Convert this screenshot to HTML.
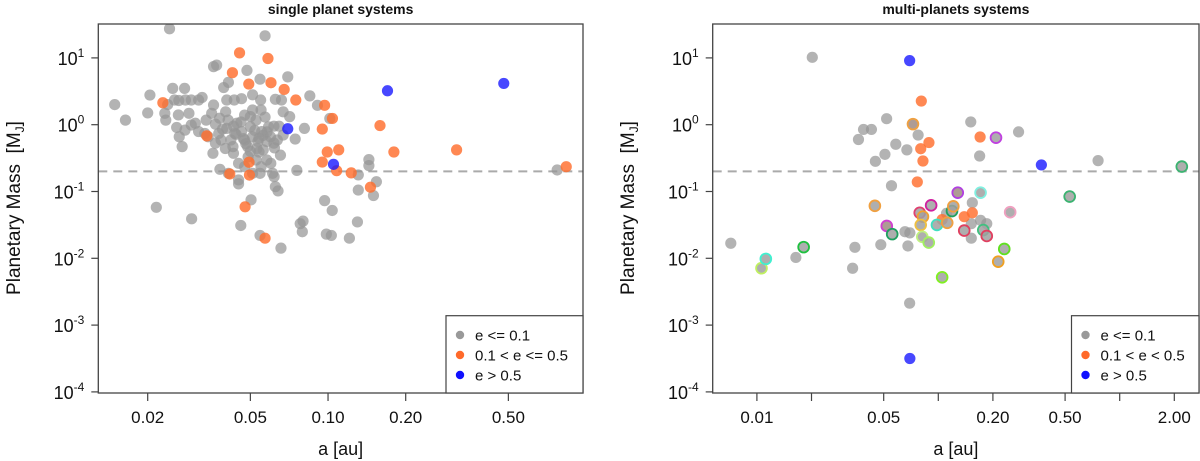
<!DOCTYPE html>
<html><head><meta charset="utf-8"><style>
html,body{margin:0;padding:0;background:#fff}
svg{display:block;font-family:"Liberation Sans",Arial,sans-serif}
</style></head><body>
<svg id="chart" width="1200" height="461" viewBox="0 0 1200 461"></svg>
<script>
// ---- single planet systems ----
const singleGrayA=[0.0149,0.0164,0.02,0.0204,0.0243,0.0216,0.0296,0.0272,0.0259,0.025,0.0278,0.036,0.037,0.0394,0.0411,0.0459,0.0503,0.0545,0.057,0.0657,0.0485,0.0545,0.0698,0.085,0.091,0.1016,0.0746,0.081,0.0757,0.0618,0.0625,0.064,0.097,0.1038,0.0985,0.103,0.121,0.130,0.0795,0.078,0.080,0.131,0.131,0.144,0.144,0.150,0.154,0.773,0.0381,0.0358,0.043,0.045,0.045,0.045,0.0526,0.060,0.0654,0.055,0.054,0.067,0.071,0.066,0.0625,0.0548,0.051,0.0462,0.0433,0.0405,0.051,0.055,0.0315,0.0325,0.0295,0.028,0.0264,0.0254,0.0239,0.0233,0.0235,0.0263,0.0289,0.0306,0.0315,0.0333,0.0337,0.0354,0.036,0.0366,0.0377,0.0385,0.0400,0.0405,0.042,0.0435,0.0443,0.0462,0.0475,0.0488,0.05,0.051,0.0526,0.0535,0.0553,0.0561,0.0579,0.0598,0.0617,0.0636,0.0588,0.0617,0.0646,0.0670,0.041,0.0401,0.0475,0.05,0.0428,0.0366,0.0343,0.0295,0.0279,0.0265,0.049,0.0545,0.051,0.0579,0.061,0.0411,0.0475,0.044,0.047,0.052,0.056,0.039,0.048,0.053,0.058,0.043,0.046,0.050,0.054,0.038,0.062,0.057];
const singleGrayM=[2.0,1.17,1.5,2.78,27.3,0.058,0.039,0.47,0.91,3.5,3.5,7.4,7.8,3.6,4.3,0.031,0.075,0.022,21.4,0.0142,6.5,4.8,5.2,2.7,1.95,1.24,0.61,0.88,0.207,0.167,0.118,0.102,0.073,0.052,0.023,0.022,0.02,0.035,0.025,0.033,0.036,0.105,0.177,0.30,0.244,0.087,0.14,0.21,0.215,0.373,0.373,0.264,0.149,0.13,0.296,0.264,0.35,0.235,0.39,1.56,1.32,2.34,2.4,2.34,2.8,2.45,2.34,2.34,1.66,1.66,2.34,2.56,2.34,2.34,2.3,2.34,2.0,1.48,1.17,1.4,1.48,1.05,0.79,0.74,1.17,1.48,1.97,1.02,0.74,0.59,0.44,0.88,0.59,0.74,1.05,0.79,0.59,0.47,0.93,0.66,1.17,0.56,0.79,0.42,0.56,0.66,0.53,0.59,0.93,0.95,0.95,0.70,1.17,1.56,1.39,1.32,0.47,0.53,0.66,0.99,0.83,0.66,0.33,0.187,0.187,0.296,0.187,0.187,0.235,0.72,0.62,0.82,0.69,0.86,0.52,0.44,0.78,0.95,1.1,0.40,0.63,1.25,0.45,1.3];
const singleOrangeA=[0.0229,0.0339,0.0416,0.0426,0.0454,0.0493,0.0494,0.0496,0.0477,0.057,0.0585,0.0601,0.0676,0.075,0.097,0.095,0.104,0.0993,0.110,0.095,0.108,0.123,0.146,0.159,0.180,0.315,0.838];
const singleOrangeM=[2.13,0.68,0.183,6.0,11.9,4.06,0.274,0.176,0.059,0.020,9.8,4.25,3.37,2.34,1.95,0.86,1.24,0.39,0.42,0.276,0.205,0.19,0.116,0.97,0.39,0.42,0.235];
const singleBlueA=[0.0698,0.105,0.170,0.48];
const singleBlueM=[0.87,0.255,3.22,4.15];
// ---- multi-planet systems ----
const multiGrayA=[0.00718,0.0202,0.0164,0.0337,0.0347,0.0363,0.0387,0.0428,0.045,0.0508,0.0519,0.0583,0.0671,0.0774,0.0552,0.0482,0.0655,0.0697,0.068,0.0695,0.151,0.169,0.277,0.76,0.152,0.152,0.171,0.185,0.111,0.154];
const multiGrayM=[0.0168,10.2,0.0103,0.0071,0.0146,0.60,0.85,0.85,0.283,0.36,1.23,0.51,0.42,0.70,0.122,0.016,0.025,0.024,0.0153,0.00213,1.10,0.34,0.78,0.29,0.033,0.02,0.037,0.033,0.047,0.068];
const multiOrangeA=[0.0806,0.0725,0.080,0.0888,0.0823,0.0766,0.17,0.052,0.105,0.139,0.154,0.127];
const multiOrangeM=[2.26,1.02,0.437,0.54,0.286,0.139,0.654,0.03,0.038,0.042,0.048,0.096];
const multiBlueA=[0.0695,0.0697,0.37];
const multiBlueM=[9.1,0.000316,0.25];
const multiRingA=[2.2,0.53,0.208,0.249,0.0725,0.0447,0.0106,0.0112,0.0181,0.052,0.0557,0.079,0.0823,0.08,0.0816,0.0886,0.0913,0.0983,0.105,0.112,0.119,0.121,0.128,0.139,0.171,0.177,0.185,0.214,0.231];
const multiRingM=[0.236,0.084,0.64,0.049,1.02,0.061,0.0071,0.0098,0.0147,0.0305,0.023,0.048,0.042,0.0316,0.021,0.0172,0.0621,0.0316,0.0052,0.034,0.051,0.06,0.096,0.026,0.096,0.0265,0.0216,0.0089,0.0138];
const multiRingColor=["#3cb371","#3cb371","#c040e0","#f0a0c0","#f0a040","#f0a040","#c0f060","#40f0d0","#20c040","#d040d0","#20a060","#e04070","#f0a030","#f0c040","#c0f080","#a0f060","#d020a0","#40e0c0","#80f020","#f0a040","#20a060","#f0a040","#b040e0","#e04060","#80f0e0","#40c080","#e04060","#f0a020","#60e020"];
const yTicks=[1e1,1e0,1e-1,1e-2,1e-3,1e-4];
const yTickExp=["1","0","-1","-2","-3","-4"];
const leftXTicks=[0.02,0.05,0.10,0.20,0.50];
const leftXLabels=["0.02","0.05","0.10","0.20","0.50"];
const rightXTicks=[0.01,0.02,0.05,0.1,0.2,0.5,1,2];
const rightXLabels=["0.01","","0.05","","0.20","0.50","","2.00"];
const threshold=0.2;

const NS="http://www.w3.org/2000/svg";
const svg=document.getElementById('chart');
function mk(tag,attrs,parent,txt){const e=document.createElementNS(NS,tag);for(const k in attrs)e.setAttribute(k,attrs[k]);if(txt!==undefined)e.textContent=txt;(parent||svg).appendChild(e);return e;}
const L=Math.log10;
const yS=m=>124.7-66.8*L(m);
const xLeft=a=>147.7+258*(L(a)-L(0.02));
const xRight=a=>756.9+181.4*(L(a)+2);
const GRAY="rgba(150,150,150,0.72)",ORANGE="rgba(255,110,45,0.82)",BLUE="rgba(25,25,255,0.8)";

function panel(id,box,xS,xt,xl,title,legend3,series,rings){
  const g=mk('g',{});
  
  
  const cp=mk('clipPath',{id:id+'-clip'},g);
  mk('rect',{x:box.x0,y:box.y0,width:box.x1-box.x0,height:box.y1-box.y0},cp);
  const t=mk('text',{x:(box.x0+box.x1)/2,y:14,'text-anchor':'middle','font-size':'14','font-weight':'bold',fill:'#111'},g,title);
  
  
  yTicks.forEach((v,i)=>{const y=yS(v);
    mk('line',{x1:box.x0-7,x2:box.x0,y1:y,y2:y,stroke:'#444','stroke-width':1.2},g);
    const tx=mk('text',{x:box.x0-14,y:y+7,'text-anchor':'end','font-size':'18',fill:'#111'},g);
    
    
    mk('tspan',{},tx,'10');mk('tspan',{dy:-8,'font-size':'12'},tx,yTickExp[i]);});
  xt.forEach((v,i)=>{const x=xS(v);
    mk('line',{x1:x,x2:x,y1:box.y1,y2:box.y1+8,stroke:'#444','stroke-width':1.2},g);
    if(xl[i]){const tx=mk('text',{x:x,y:423,'text-anchor':'middle','font-size':'17',fill:'#111'},g,xl[i]);
      
      }});
  const xa=mk('text',{x:(box.x0+box.x1)/2,y:455,'text-anchor':'middle','font-size':'18',fill:'#111'},g,'a [au]');
  
  
  const ya=mk('text',{x:0,y:0,transform:`translate(${box.yt},208) rotate(-90)`,'text-anchor':'middle','font-size':'19',fill:'#111'},g);
  
  
  mk('tspan',{},ya,'Planetary Mass\u00a0\u00a0[M');mk('tspan',{'font-size':'12',dy:4},ya,'J');mk('tspan',{dy:-4},ya,']');
  const yd=yS(threshold);
  const dl=mk('line',{x1:box.x0,x2:box.x1,y1:yd,y2:yd,stroke:'#aaa','stroke-width':2,'stroke-dasharray':'9,6'},g);
  
  
  const pg=mk('g',{'clip-path':`url(#${id}-clip)`},g);
  series.forEach(s=>{s.a.forEach((a,i)=>{
    const c=mk('circle',{cx:xS(a),cy:yS(s.m[i]),r:5.6,fill:s.c},pg);
    
    });});
  if(rings){rings.a.forEach((a,i)=>{
    const c=mk('circle',{cx:xS(a),cy:yS(rings.m[i]),r:5.4,fill:'rgba(160,160,160,0.85)',stroke:rings.col[i],'stroke-width':1.8},pg);
    
    });}
  mk('rect',{x:box.x0,y:box.y0,width:box.x1-box.x0,height:box.y1-box.y0,fill:'none',stroke:'#444','stroke-width':1.3},g);
  const lg=mk('g',{},g);
  
  
  mk('rect',{x:box.lx,y:315.7,width:box.x1-box.lx,height:box.y1-315.7,fill:'#fff',stroke:'#444','stroke-width':1.2},lg);
  const cols=["#999",'#ff6a2a','#1010ff'];
  legend3.forEach((s,i)=>{
    mk('circle',{cx:box.lx+14,cy:335+i*20,r:4.2,fill:cols[i]},lg);
    const tx=mk('text',{x:box.lx+29,y:340.5+i*20,'font-size':'15',fill:'#111'},lg,s);
    
    });
}
panel('single',{x0:98.3,x1:583,y0:24,y1:393,lx:446,yt:20},xLeft,leftXTicks,leftXLabels,'single planet systems',
 ['e <= 0.1','0.1 < e <= 0.5','e > 0.5'],
 [{a:singleGrayA,m:singleGrayM,c:GRAY,n:'point-low-e'},{a:singleOrangeA,m:singleOrangeM,c:ORANGE,n:'point-mid-e'},{a:singleBlueA,m:singleBlueM,c:BLUE,n:'point-high-e'}]);
panel('multi',{x0:712.7,x1:1199,y0:24,y1:393,lx:1071.5,yt:634},xRight,rightXTicks,rightXLabels,'multi-planets systems',
 ['e <= 0.1','0.1 < e < 0.5','e > 0.5'],
 [{a:multiGrayA,m:multiGrayM,c:GRAY,n:'point-low-e'},{a:multiOrangeA,m:multiOrangeM,c:ORANGE,n:'point-mid-e'},{a:multiBlueA,m:multiBlueM,c:BLUE,n:'point-high-e'}],
 {a:multiRingA,m:multiRingM,col:multiRingColor});
</script>
</body></html>
